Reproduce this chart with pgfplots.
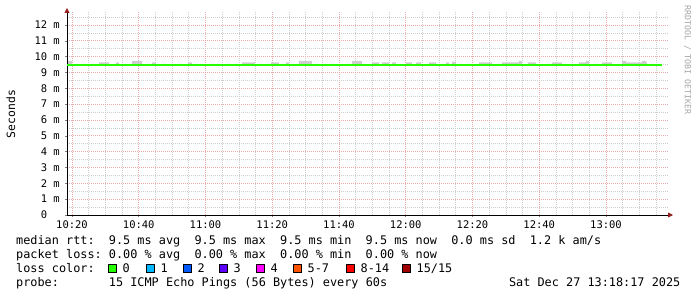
\documentclass[border=0pt]{standalone}
\usepackage{fontspec}
\usepackage{pgfplots}
\pgfplotsset{compat=1.18}
\usetikzlibrary{arrows.meta}
\newfontfamily\dvm{DejaVu Sans Mono}
\newcommand\legfont{\dvm\fontsize{11.85}{14}\selectfont\frenchspacing}
\definecolor{lc0}{HTML}{26FF00}
\definecolor{lc1}{HTML}{00B8FF}
\definecolor{lc2}{HTML}{0059FF}
\definecolor{lc3}{HTML}{5E00FF}
\definecolor{lc4}{HTML}{FF00FF}
\definecolor{lc5}{HTML}{FF5500}
\definecolor{lc8}{HTML}{FF0000}
\definecolor{lc15}{HTML}{A00000}
\definecolor{mgrid}{RGB}{238,170,170}
\definecolor{sgrid}{RGB}{205,205,205}
\definecolor{arrowred}{RGB}{150,30,30}
\definecolor{smoke}{RGB}{205,205,205}
\begin{document}
\begin{tikzpicture}
\path[use as bounding box] (0,0) rectangle (697pt,297pt);
\begin{axis}[
  at={(67pt,82pt)}, anchor=south west,
  width=602pt, height=203pt, scale only axis,
  xmin=18.5, xmax=198.88, ymin=0, ymax=12.82,
  axis lines=left,
  axis line style={black, line width=0.8pt, shorten >=-4pt, -{Triangle[length=5pt,width=5pt,color=arrowred]}},
  xtick={20,40,...,180},
  xticklabels={10:20,10:40,11:00,11:20,11:40,12:00,12:20,12:40,13:00},
  minor xtick={25,30,35,45,50,55,65,70,75,85,90,95,105,110,115,125,130,135,145,150,155,165,170,175,185,190,195},
  ytick={0,1,...,12},
  yticklabels={0\hphantom{\ m},1 m,2 m,3 m,4 m,5 m,6 m,7 m,8 m,9 m,10 m,11 m,12 m},
  minor ytick={0.5,1.5,...,12.5},
  grid=both,
  major grid style={mgrid, dash pattern=on 1pt off 1pt, line width=0.65pt},
  minor grid style={sgrid, dash pattern=on 1pt off 1pt, line width=0.65pt},
  tick align=outside,
  major tick length=2pt, minor tick length=0pt,
  tick style={gray, line width=0.6pt},
  tick label style={font=\dvm\fontsize{10.5}{12}\selectfont\frenchspacing, text=black},
  yticklabel style={inner sep=0pt, xshift=-5pt},
  xticklabel style={inner sep=0pt, yshift=-4pt},
]
\addplot[const plot, fill=smoke, draw=none] coordinates {
(18.5,9.5) (18.8,9.73) (20,9.5) (28.1,9.64) (31.1,9.5) (33.2,9.64) (34.1,9.5)
(38,9.73) (41,9.5) (44,9.64) (45.2,9.5) (54.8,9.64) (56,9.5) (71,9.64) (74.8,9.5)
(79.6,9.64) (82,9.5) (84.1,9.64) (85,9.5) (88,9.73) (91.9,9.5) (103.9,9.73) (106.9,9.5)
(109.9,9.64) (112,9.5) (112.9,9.64) (115,9.5) (115.9,9.64) (117.1,9.5) (120.1,9.64)
(121.9,9.5) (123.1,9.64) (124.6,9.5) (127,9.64) (129.1,9.5) (132.1,9.64) (133,9.5)
(133.9,9.68) (135.1,9.5) (142,9.64) (145.8,9.5) (148.8,9.64) (153.9,9.73) (154.8,9.5)
(156.6,9.64) (159,9.5) (163.8,9.64) (166.8,9.5) (171.9,9.64) (174,9.73) (174.9,9.5)
(178.8,9.64) (181.8,9.5) (184.8,9.73) (186,9.64) (190.8,9.73) (192,9.64) (192.3,9.5)
(196.8,9.5)};
\addplot[const plot, lc0, line width=2pt] coordinates {
(18.5,9.5) (27,9.45) (28,9.5) (30,9.45) (33,9.5) (36,9.45) (42,9.5) (44,9.45) (45,9.5)
(53,9.45) (54,9.5) (62,9.45) (63,9.5) (64,9.45) (66,9.5) (69,9.45) (70,9.5)
(78,9.45) (79.5,9.5) (167,9.45) (168,9.5) (194,9.45) (195,9.5) (196.8,9.5)};
\end{axis}
\node[rotate=90, inner sep=0pt, font=\dvm\fontsize{11.4}{14}\selectfont] at (11pt,183pt) {Seconds};
\node[rotate=-90, inner sep=0pt, font=\dvm\fontsize{8.3}{10}\selectfont, text=black!35] at (687.5pt,237pt) {RRDTOOL / TOBI OETIKER};
\node[anchor=base west, inner sep=0pt, font=\legfont] at (16pt,52pt) {median rtt:~~9.5 ms avg~~9.5 ms max~~9.5 ms min~~9.5 ms now~~0.0 ms sd~~1.2 k am/s};
\node[anchor=base west, inner sep=0pt, font=\legfont] at (16pt,38pt) {packet loss: 0.00 \% avg~~0.00 \% max~~0.00 \% min~~0.00 \% now};
\node[anchor=base west, inner sep=0pt, font=\legfont] at (16pt,24pt) {loss color:};
\foreach \bx/\col/\lab in {108/lc0/0,146/lc1/1,183/lc2/2,219/lc3/3,256/lc4/4,293/lc5/5-7,346/lc8/8-14,402/lc15/15\slash 15}{
  \draw[fill=\col, line width=0.8pt] (\bx pt,25pt) rectangle ++(8pt,8pt);
  \node[anchor=base west, inner sep=0pt, font=\legfont] at (\bx pt+14.5pt,24pt) {\lab};
}
\node[anchor=base west, inner sep=0pt, font=\legfont] at (16pt,10pt) {probe:~~~~~~~15 ICMP Echo Pings (56 Bytes) every 60s};
\node[anchor=base east, inner sep=0pt, font=\legfont] at (680.5pt,10pt) {Sat Dec 27 13:18:17 2025};
\end{tikzpicture}
\end{document}
